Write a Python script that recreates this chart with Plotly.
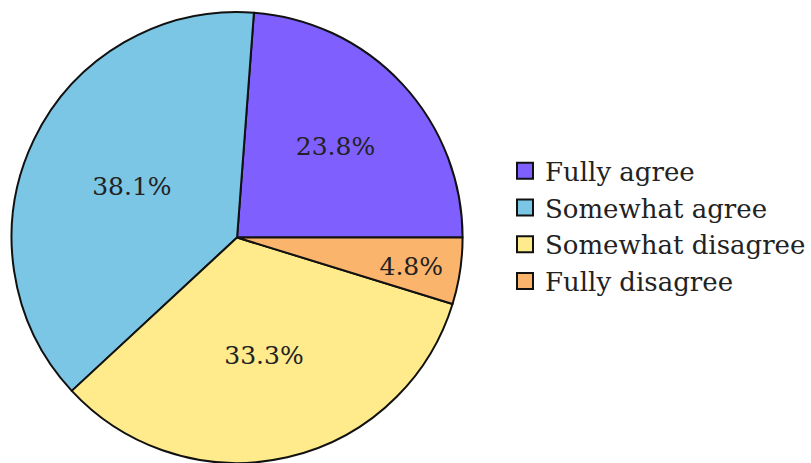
import plotly.graph_objects as go

# Survey responses (counts of respondents)
labels = ["Fully agree", "Somewhat agree", "Somewhat disagree", "Fully disagree"]
counts = [5, 8, 7, 1]
colors = ["#7F60FF", "#7BC6E5", "#FFEB8C", "#FBB46C"]

# First slice starts at 3 o'clock and runs counterclockwise
first_share = counts[0] / sum(counts)
start_rotation = 90 - 360 * first_share

serif = "DejaVu Serif"
label_font = dict(family=serif, size=25, color="#222222")
edge = dict(color="#111111", width=2)

# Padding keeps the thin slice's label clear of the rim
pad = "\u00a0" * 5
templates = ["%{percent:.1%}"] * (len(counts) - 1) + ["%{percent:.1%}" + pad]

fig = go.Figure()
fig.add_trace(
    go.Pie(
        labels=labels,
        values=counts,
        sort=False,
        direction="counterclockwise",
        rotation=start_rotation,
        marker=dict(colors=colors, line=edge),
        textinfo="percent",
        texttemplate=templates,
        textposition="inside",
        insidetextorientation="horizontal",
        textfont=label_font,
        insidetextfont=label_font,
        domain=dict(x=[0, 0.567], y=[0, 1]),
        hoverinfo="label+percent",
        showlegend=False,
    )
)

# Legend entries with larger square swatches
for name, col in zip(labels, colors):
    fig.add_trace(
        go.Scatter(
            x=[None],
            y=[None],
            mode="markers",
            name=name,
            marker=dict(symbol="square", size=16, color=col, line=edge),
            hoverinfo="skip",
        )
    )

fig.update_layout(
    width=811,
    height=463,
    margin=dict(l=10, r=0, t=12, b=0),
    paper_bgcolor="white",
    plot_bgcolor="white",
    font=dict(family=serif, size=25, color="#222222"),
    uniformtext=dict(minsize=25, mode="show"),
    xaxis=dict(visible=False),
    yaxis=dict(visible=False),
    showlegend=True,
    legend=dict(
        x=0.618,
        y=0.525,
        xanchor="left",
        yanchor="middle",
        itemsizing="trace",
        font=dict(family=serif, size=26, color="#222222"),
        bgcolor="rgba(0,0,0,0)",
    ),
)

fig.write_html("out.html")
